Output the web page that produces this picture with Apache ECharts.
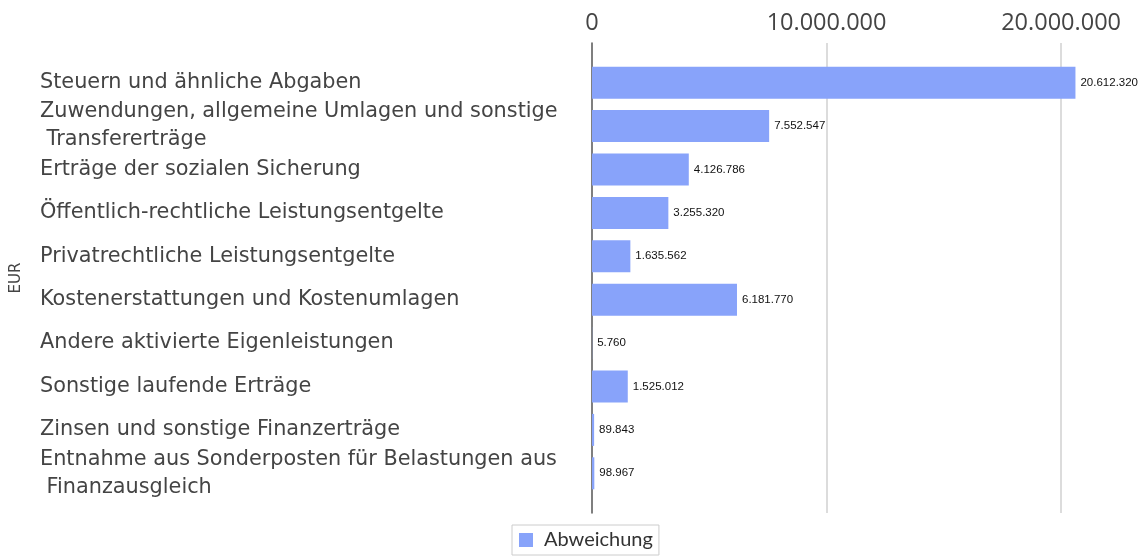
<!DOCTYPE html>
<html>
<head>
<meta charset="utf-8">
<script src="https://cdn.jsdelivr.net/npm/echarts@6/dist/echarts.min.js"></script>
<style>
  html, body { margin: 0; padding: 0; background: #fff; }
  #chart { width: 1144px; height: 558px; }
</style>
</head>
<body>
<div id="chart"></div>
<script>
// Kategorien (von oben nach unten)
const categories = [
  'Steuern und ähnliche Abgaben',
  'Zuwendungen, allgemeine Umlagen und sonstige\n Transfererträge',
  'Erträge der sozialen Sicherung',
  'Öffentlich-rechtliche Leistungsentgelte',
  'Privatrechtliche Leistungsentgelte',
  'Kostenerstattungen und Kostenumlagen',
  'Andere aktivierte Eigenleistungen',
  'Sonstige laufende Erträge',
  'Zinsen und sonstige Finanzerträge',
  'Entnahme aus Sonderposten für Belastungen aus\n Finanzausgleich'
];
const abweichung = [20612320, 7552547, 4126786, 3255320, 1635562, 6181770, 5760, 1525012, 89843, 98967];
const xTicks = [0, 10000000, 20000000];

// 1234567 -> 1.234.567
function fmt(v) {
  return String(Math.round(v)).replace(/\B(?=(\d{3})+(?!\d))/g, '.');
}

const xMax = 22000000;
const textColor = '#444';

let chart = echarts.init(document.getElementById('chart'));
let option = {
  animation: false,
  legend: {
    data: ['Abweichung'],
    left: 512,
    top: 525,
    padding: [5, 6, 5, 7],
    borderColor: '#ccc',
    borderWidth: 1,
    itemWidth: 14,
    itemHeight: 14,
    icon: 'rect',
    textStyle: { fontFamily: 'Lato', fontSize: 20, color: '#333', padding: [0, 0, 0, 6] }
  },
  grid: [
    // Rahmen fuer Gitterlinien und Achse
    { left: 592, right: 36, top: 43, bottom: 45 },
    // eigentliche Balken
    { left: 592, right: 36, top: 61, bottom: 63 }
  ],
  xAxis: [
    {
      gridIndex: 0,
      type: 'value',
      position: 'top',
      min: 0,
      max: xMax,
      interval: xTicks[1] - xTicks[0],
      axisLine: { show: false },
      axisTick: { show: false },
      axisLabel: {
        margin: 8,
        showMaxLabel: false,
        fontFamily: 'Open Sans',
        fontSize: 23.5,
        color: textColor,
        formatter: v => xTicks.indexOf(v) >= 0 ? fmt(v) : ''
      },
      splitLine: { show: true, showMinLine: false, showMaxLine: false, lineStyle: { color: '#d0d0d0', width: 1.5 } }
    },
    {
      gridIndex: 1,
      type: 'value',
      min: 0,
      max: xMax,
      show: false
    }
  ],
  yAxis: [
    {
      gridIndex: 0,
      type: 'value',
      min: 0,
      max: 1,
      axisLine: { show: true, lineStyle: { color: '#555', width: 1.5 } },
      axisTick: { show: false },
      axisLabel: { show: false },
      splitLine: { show: false }
    },
    {
      gridIndex: 1,
      type: 'category',
      inverse: true,
      data: categories,
      name: 'EUR',
      nameLocation: 'middle',
      nameGap: 568,
      nameTextStyle: { fontFamily: 'DejaVu Sans', fontSize: 15, color: textColor },
      axisLine: { show: false },
      axisTick: { show: false },
      axisLabel: {
        interval: 0,
        align: 'left',
        margin: 552,
        padding: [4, 0, 0, 0],
        fontFamily: 'DejaVu Sans',
        fontSize: 20.8,
        lineHeight: 28,
        color: textColor
      }
    }
  ],
  series: [
    {
      name: 'Abweichung',
      type: 'bar',
      xAxisIndex: 1,
      yAxisIndex: 1,
      barWidth: 32,
      itemStyle: { color: '#88a3fa' },
      label: {
        show: true,
        position: 'right',
        distance: 5,
        fontFamily: 'Liberation Sans',
        fontSize: 11.5,
        color: '#111',
        formatter: p => fmt(p.value)
      },
      data: abweichung
    }
  ]
};
chart.setOption(option);
window.addEventListener('resize', function () { chart.resize(); });
</script>
</body>
</html>
